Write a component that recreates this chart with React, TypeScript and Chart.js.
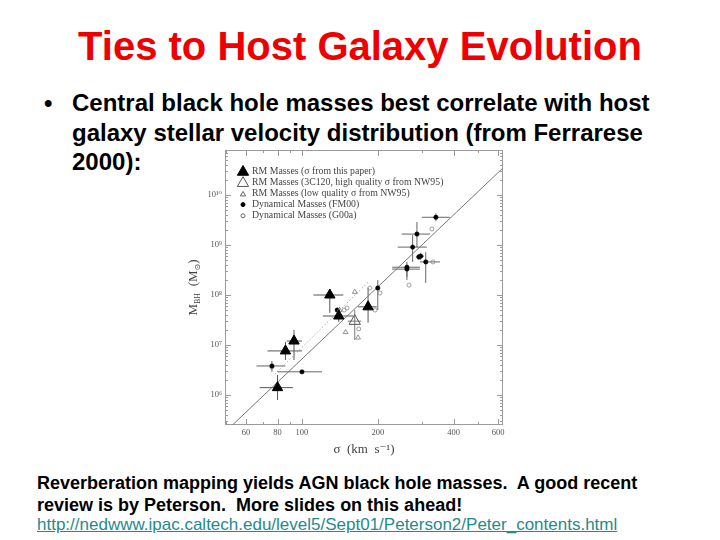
import React, { useEffect, useRef } from "react";
import { Chart, registerables } from "chart.js";
Chart.register(...registerables);

// ---------- data ----------
const legendLabels = [
  "RM Masses (σ from this paper)",
  "RM Masses (3C120, high quality σ from NW95)",
  "RM Masses (low quality σ from NW95)",
  "Dynamical Masses (FM00)",
  "Dynamical Masses (G00a)",
];

// RM masses, sigma from this paper (filled triangles)
const rmSigma = [129, 140, 183, 93, 86, 80];
const rmMass = [1.0e8, 3.8e7, 5.8e7, 1.2e7, 7.6e6, 1.4e6];
const rmSigmaLow = [111, 121, 167, 87, 73, 68];
const rmSigmaHigh = [146, 160, 198, 100, 100, 92];
const rmMassLow = [4.4e7, 2.9e7, 2.8e7, 5.0e6, 5.0e6, 7.9e5];
const rmMassHigh = [1.3e8, 5.0e7, 1.4e8, 2.0e7, 1.15e7, 2.5e6];

// 3C120 (large open triangle)
const c120Sigma = [162];
const c120Mass = [3.0e7];
const c120SigmaLow = [152];
const c120SigmaHigh = [172];
const c120MassLow = [1.26e7];
const c120MassHigh = [5.0e7];

// low quality sigma from NW95 (small open triangles)
const nw95Sigma = [162, 167, 149, 141];
const nw95Mass = [1.15e8, 1.4e7, 1.8e7, 5.0e7];

// Dynamical masses FM00 (filled dots)
const fm00Sigma = [340, 286, 275, 291, 296, 310, 261, 261, 200, 76, 100, 138];
const fm00Mass = [3.6e9, 1.66e9, 9.1e8, 5.8e8, 6.0e8, 4.6e8, 3.6e8, 3.3e8, 1.38e8, 3.8e6, 2.9e6, 5.0e7];
const fm00SigmaLow = [299, 249, 240, 283, 288, 294, 228, 228, 198, 66, 80, 138];
const fm00SigmaHigh = [386, 322, 313, 300, 305, 353, 294, 294, 202, 86, 120, 138];
const fm00MassLow = [3.0e9, 9.1e8, 4.6e8, 5.0e8, 5.0e8, 1.74e8, 2.3e8, 2.0e8, 5.0e7, 2.9e6, 2.9e6, 5.0e7];
const fm00MassHigh = [4.3e9, 2.9e9, 1.58e9, 6.6e8, 7.0e8, 7.2e8, 4.6e8, 4.0e8, 2.0e8, 4.8e6, 2.9e6, 5.0e7];

// Dynamical masses G00a (small open circles)
const g00Sigma = [328, 266, 186, 195, 204, 151, 147, 168, 76, 331];
const g00Mass = [2.1e9, 1.58e8, 1.38e8, 5.0e7, 1.1e8, 5.5e7, 5.0e7, 2.1e7, 3.6e6, 4.6e8];

// fitted relations
const fitSigma = [53, 628];
const fitMass = [2.5e5, 3.5e10];
const dotSigma = [78, 185];
const dotMass = [2.6e6, 1.9e8];

// axes
const xMin = 49.5;
const xMax = 628;
const yMin = 2.5e5;
const yMax = 8.0e10;
const xTickValues = [60, 80, 100, 200, 400, 600];
const xMinorTickValues = [50, 70, 90, 300, 500];
const yTickValues = [1e6, 1e7, 1e8, 1e9, 1e10];
const yTickLabels = ["10⁶", "10⁷", "10⁸", "10⁹", "10¹⁰"];

const SERIF = "'Liberation Serif', 'DejaVu Serif', serif";
const SANS = "'Liberation Sans', Arial, sans-serif";

const pts = (xs: number[], ys: number[]) => xs.map((x, i) => ({ x, y: ys[i] }));

function drawMarker(ctx: CanvasRenderingContext2D, style: string, x: number, y: number, r: number, fill: string | null, stroke: string) {
  ctx.beginPath();
  if (style === "triangle") {
    for (let k = 0; k < 3; k++) {
      const a = (k * 2 * Math.PI) / 3;
      const px = x + Math.sin(a) * r;
      const py = y - Math.cos(a) * r;
      if (k === 0) ctx.moveTo(px, py);
      else ctx.lineTo(px, py);
    }
    ctx.closePath();
  } else {
    ctx.arc(x, y, r, 0, Math.PI * 2);
  }
  if (fill) {
    ctx.fillStyle = fill;
    ctx.fill();
  }
  ctx.strokeStyle = stroke;
  ctx.lineWidth = 1;
  ctx.stroke();
}

const frameTicksPlugin = {
  id: "frameTicks",
  beforeDatasetsDraw(chart: any) {
    const { ctx, chartArea: a, scales } = chart;
    const xs = scales.x;
    const ys = scales.y;
    ctx.save();
    ctx.strokeStyle = "#9a9a9a";
    ctx.lineWidth = 1;
    ctx.strokeRect(Math.round(a.left) + 0.5, Math.round(a.top) + 0.5, Math.round(a.right - a.left) - 1, Math.round(a.bottom - a.top) - 1);
    ctx.beginPath();
    const xt = (v: number, len: number) => {
      const px = Math.round(xs.getPixelForValue(v)) + 0.5;
      if (px < a.left || px > a.right) return;
      ctx.moveTo(px, a.bottom);
      ctx.lineTo(px, a.bottom - len);
      ctx.moveTo(px, a.top);
      ctx.lineTo(px, a.top + len);
    };
    const yt = (v: number, len: number) => {
      const py = Math.round(ys.getPixelForValue(v)) + 0.5;
      if (py < a.top || py > a.bottom) return;
      ctx.moveTo(a.left, py);
      ctx.lineTo(a.left + len, py);
      ctx.moveTo(a.right, py);
      ctx.lineTo(a.right - len, py);
    };
    xTickValues.forEach((v) => xt(v, 6));
    xMinorTickValues.forEach((v) => xt(v, 3));
    yTickValues.forEach((v) => yt(v, 6));
    for (let d = 5; d <= 10; d++) {
      for (let m = 2; m <= 9; m++) yt(m * Math.pow(10, d), 3);
    }
    ctx.stroke();

    // error bars
    const bars = (sx: number[], my: number[], sLo: number[], sHi: number[], mLo: number[], mHi: number[], color: string) => {
      ctx.beginPath();
      sx.forEach((s, i) => {
        const px = xs.getPixelForValue(s);
        const py = ys.getPixelForValue(my[i]);
        ctx.moveTo(xs.getPixelForValue(sLo[i]), py);
        ctx.lineTo(xs.getPixelForValue(sHi[i]), py);
        ctx.moveTo(px, ys.getPixelForValue(mLo[i]));
        ctx.lineTo(px, ys.getPixelForValue(mHi[i]));
      });
      ctx.strokeStyle = color;
      ctx.lineWidth = 1;
      ctx.stroke();
    };
    bars(rmSigma, rmMass, rmSigmaLow, rmSigmaHigh, rmMassLow, rmMassHigh, "#555");
    bars(c120Sigma, c120Mass, c120SigmaLow, c120SigmaHigh, c120MassLow, c120MassHigh, "#777");
    bars(fm00Sigma, fm00Mass, fm00SigmaLow, fm00SigmaHigh, fm00MassLow, fm00MassHigh, "#666");
    ctx.restore();
  },
  afterDatasetsDraw(chart: any) {
    const { ctx, chartArea: a } = chart;
    ctx.save();
    const styles = [
      { s: "triangle", r: 6.5, fill: "#000", stroke: "#000" },
      { s: "triangle", r: 6.5, fill: null, stroke: "#555" },
      { s: "triangle", r: 3, fill: null, stroke: "#666" },
      { s: "circle", r: 2, fill: "#000", stroke: "#000" },
      { s: "circle", r: 2, fill: null, stroke: "#666" },
    ];
    ctx.font = `9.8px ${SERIF}`;
    ctx.textBaseline = "middle";
    legendLabels.forEach((lab, i) => {
      const y = a.top + 21 + i * 11.2;
      const st = styles[i];
      drawMarker(ctx, st.s, a.left + 18, y + (st.s === "triangle" ? 1 : 0), st.r, st.fill, st.stroke);
      ctx.fillStyle = "#444";
      ctx.fillText(lab, a.left + 27, y);
    });
    ctx.restore();
  },
  afterDraw(chart: any) {
    const { ctx, chartArea: a } = chart;
    ctx.save();
    ctx.translate(13, (a.top + a.bottom) / 2);
    ctx.rotate(-Math.PI / 2);
    ctx.fillStyle = "#444";
    ctx.textBaseline = "alphabetic";
    const big = `13px ${SERIF}`;
    const small = `8px ${SERIF}`;
    const parts: [string, string, number][] = [
      ["M", big, 0],
      ["BH", small, 3],
      ["  (M", big, 0],
      ["⊙", small, 3],
      [")", big, 0],
    ];
    let total = 0;
    parts.forEach(([t, f]) => {
      ctx.font = f;
      total += ctx.measureText(t).width;
    });
    let x = -total / 2;
    parts.forEach(([t, f, dy]) => {
      ctx.font = f;
      ctx.fillText(t, x, 4 + dy);
      x += ctx.measureText(t).width;
    });
    ctx.restore();
  },
};

function SlideChart() {
  const ref = useRef<HTMLCanvasElement | null>(null);
  useEffect(() => {
    if (!ref.current) return;
    const chart = new Chart(ref.current, {
      type: "scatter",
      data: {
        datasets: [
          {
            label: legendLabels[0],
            data: pts(rmSigma, rmMass),
            pointStyle: "triangle",
            pointRadius: 6,
            backgroundColor: "#000",
            borderColor: "#000",
            borderWidth: 1,
          },
          {
            label: legendLabels[1],
            data: pts(c120Sigma, c120Mass),
            pointStyle: "triangle",
            pointRadius: 6.5,
            backgroundColor: "rgba(255,255,255,0)",
            borderColor: "#555",
            borderWidth: 1,
          },
          {
            label: legendLabels[2],
            data: pts(nw95Sigma, nw95Mass),
            pointStyle: "triangle",
            pointRadius: 2.8,
            backgroundColor: "rgba(255,255,255,0)",
            borderColor: "#777",
            borderWidth: 0.8,
          },
          {
            label: legendLabels[3],
            data: pts(fm00Sigma, fm00Mass),
            pointStyle: "circle",
            pointRadius: 2.2,
            backgroundColor: "#000",
            borderColor: "#000",
            borderWidth: 0.5,
          },
          {
            label: legendLabels[4],
            data: pts(g00Sigma, g00Mass),
            pointStyle: "circle",
            pointRadius: 2,
            backgroundColor: "rgba(255,255,255,0)",
            borderColor: "#888",
            borderWidth: 0.8,
          },
          {
            label: "fit",
            data: pts(fitSigma, fitMass),
            showLine: true,
            pointRadius: 0,
            borderColor: "#777",
            borderWidth: 1,
          },
          {
            label: "fit2",
            data: pts(dotSigma, dotMass),
            showLine: true,
            pointRadius: 0,
            borderColor: "#888",
            borderWidth: 1,
            borderDash: [1, 2.5],
          },
        ],
      } as any,
      options: {
        animation: false,
        responsive: false,
        layout: { padding: { top: 10, right: 12, left: 0, bottom: 0 } },
        plugins: { legend: { display: false }, tooltip: { enabled: false } },
        scales: {
          x: {
            type: "logarithmic",
            min: xMin,
            max: xMax,
            grid: { display: false, drawTicks: false },
            border: { display: false },
            afterBuildTicks: (s: any) => {
              s.ticks = xTickValues.map((v) => ({ value: v }));
            },
            afterFit: (s: any) => {
              s.height = 35;
            },
            ticks: {
              autoSkip: false,
              maxRotation: 0,
              padding: 3,
              color: "#555",
              font: { family: SERIF, size: 8.5 },
              callback: (v: any) => String(v),
            },
            title: {
              display: true,
              text: "σ  (km  s⁻¹)",
              color: "#444",
              font: { family: SERIF, size: 13 },
              padding: { top: 0, bottom: 3 },
            },
          },
          y: {
            type: "logarithmic",
            min: yMin,
            max: yMax,
            grid: { display: false, drawTicks: false },
            border: { display: false },
            afterBuildTicks: (s: any) => {
              s.ticks = yTickValues.map((v) => ({ value: v }));
            },
            afterFit: (s: any) => {
              s.width = 45;
            },
            ticks: {
              autoSkip: false,
              padding: 3,
              color: "#555",
              font: { family: SERIF, size: 8.5 },
              callback: (v: any) => {
                const i = yTickValues.indexOf(Number(v));
                return i >= 0 ? yTickLabels[i] : "";
              },
            },
          },
        },
      } as any,
      plugins: [frameTicksPlugin],
    });
    return () => chart.destroy();
  }, []);
  return <canvas ref={ref} width={335} height={320} style={{ position: "absolute", left: 180, top: 140 }} />;
}

const line = (top: number, left: number, size: number, bold: boolean, text: string, extra: React.CSSProperties = {}) => (
  <div
    style={{
      position: "absolute",
      top,
      left,
      fontFamily: SANS,
      fontSize: size,
      lineHeight: `${size}px`,
      fontWeight: bold ? 700 : 400,
      whiteSpace: "pre",
      color: "#000",
      ...extra,
    }}
  >
    {text}
  </div>
);

export default function App() {
  return (
    <div style={{ position: "fixed", left: 0, top: 0, width: 720, height: 540, background: "#fff", overflow: "hidden" }}>
      <div
        style={{
          position: "absolute",
          top: 60 - 0.8465 * 40,
          left: 0,
          width: 720,
          textAlign: "center",
          fontFamily: SANS,
          fontSize: 40,
          lineHeight: "40px",
          fontWeight: 700,
          color: "#ee0000",
          whiteSpace: "pre",
        }}
      >
        Ties to Host Galaxy Evolution
      </div>
      {line(111 - 0.8465 * 24, 44, 24, true, "•")}
      {line(111 - 0.8465 * 24, 72, 24, true, "Central black hole masses best correlate with host")}
      {line(141 - 0.8465 * 24, 72, 24, true, "galaxy stellar velocity distribution (from Ferrarese")}
      {line(170 - 0.8465 * 24, 72, 24, true, "2000):")}
      <SlideChart />
      {line(489 - 0.8465 * 18, 37, 18, true, "Reverberation mapping yields AGN black hole masses.  A good recent")}
      {line(511 - 0.8465 * 18, 37, 18, true, "review is by Peterson.  More slides on this ahead!")}
      {line(530 - 0.8465 * 17, 37, 17, false, "http://nedwww.ipac.caltech.edu/level5/Sept01/Peterson2/Peter_contents.html", {
        color: "#1f8a8f",
        textDecoration: "underline",
      })}
    </div>
  );
}
